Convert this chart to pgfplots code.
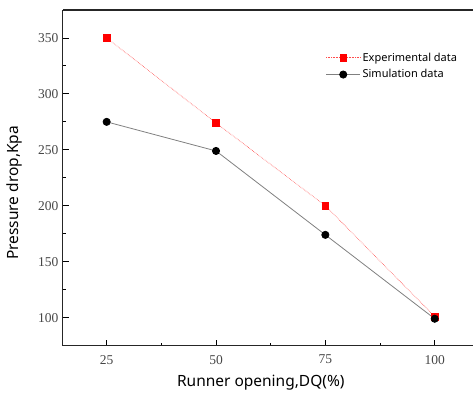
\documentclass[border=0pt]{standalone}
\usepackage{pgfplots}
\pgfplotsset{compat=1.18}
\usepackage{fontspec}
\setmainfont{Noto Sans}
\newfontfamily\tickfont{Liberation Serif}
\definecolor{expred}{RGB}{255,0,0}
\definecolor{simgray}{RGB}{128,128,128}
\definecolor{ticktext}{RGB}{70,70,70}
\begin{document}
\begin{tikzpicture}
\begin{axis}[
  at={(0pt,0pt)}, anchor=south west,
  scale only axis,
  width=411pt, height=336pt,
  xmin=15, xmax=108.86, ymin=75, ymax=375,
  axis lines*=left,
  axis line style={-, black!85, line width=1.1pt},
  xtick={25,50,75,100},
  ytick={100,150,200,250,300,350},
  minor x tick num=1, minor y tick num=1,
  tick align=inside,
  major tick length=6pt, minor tick length=3pt,
  tick style={black, line width=0.9pt},
  /pgf/number format/assume math mode=true,
  ticklabel style={font=\tickfont\fontsize{13.5}{15}\selectfont, text=ticktext},
  xticklabel style={yshift=-6pt},
  yticklabel style={xshift=-1pt},
  xlabel={Runner opening,DQ(\%)},
  ylabel={Pressure drop,Kpa},
  label style={font=\fontsize{15.5}{18}\selectfont},
  xlabel style={at={(axis description cs:0.482,0)}, anchor=base, yshift=-40.7pt},
  ylabel style={at={(axis description cs:0,0.455)}, anchor=center, yshift=49pt},
  legend style={at={(axis description cs:0.64,0.885)}, anchor=north west, draw=none, fill=none,
    font=\fontsize{11}{13}\selectfont, row sep=3pt, inner xsep=0pt},
  legend cell align=left,
  legend image code/.code={\draw[mark repeat=2,mark phase=2,#1] plot coordinates {(0pt,0pt) (17pt,0pt) (34pt,0pt)};},
]
\draw[black!85, line width=1.1pt] (rel axis cs:0,1) -- (rel axis cs:1,1);
\addplot[expred!70, densely dotted, line width=0.6pt, mark=square*, mark size=3.3pt,
  mark options={solid, fill=expred, draw=expred}]
  coordinates {(25,350) (50,274) (75,200) (100,101)};
\addlegendentry{Experimental data}
\addplot[simgray, solid, line width=0.8pt, mark=*, mark size=3.6pt,
  mark options={solid, fill=black, draw=black}]
  coordinates {(25,275) (50,249) (75,174) (100,99)};
\addlegendentry{Simulation data}
\end{axis}
\path (-63pt,-44pt) rectangle (411pt,346pt);
\end{tikzpicture}
\end{document}
